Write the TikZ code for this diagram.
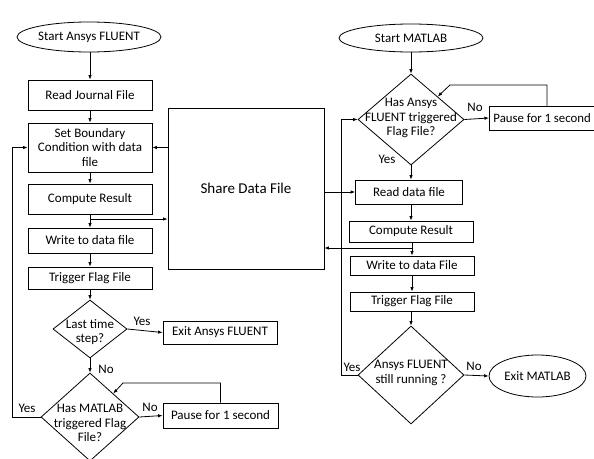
\documentclass[tikz,border=0pt]{standalone}
\usepackage{fontspec}
\setmainfont{Carlito}
\usetikzlibrary{arrows.meta,shapes.geometric,calc}
\begin{document}
\begin{tikzpicture}[x=1pt,y=-1pt,
  every node/.style={font=\fontsize{13}{14.5}\selectfont},
  box/.style={draw,line width=0.8pt,rectangle,inner sep=0pt,align=center},
  oval/.style={draw,line width=0.8pt,ellipse,inner sep=0pt},
  dia/.style={draw,line width=0.8pt,diamond,inner sep=0pt},
  txt/.style={align=center,inner sep=0pt},
  lbl/.style={inner sep=0pt},
  arr/.style={line width=0.8pt,-{Latex[length=4.5pt,width=3.5pt]}},
  ln/.style={line width=0.8pt}]
\useasboundingbox (0,0) rectangle (594,458);
\fill[white] (0,0) rectangle (594,458);

% ---------- left column ----------
\node[oval,minimum width=143pt,minimum height=30pt] (SA) at (89,37) {Start Ansys FLUENT};
\node[box,minimum width=124pt,minimum height=30pt] (RJ) at (90,95) {Read Journal File};
\node[box,minimum width=124pt,minimum height=49pt] (SB) at (90,147.5) {Set Boundary\\Condition with data\\file};
\node[box,minimum width=124pt,minimum height=30pt] (CR) at (90,199) {Compute Result};
\node[box,minimum width=124pt,minimum height=25pt] (WD) at (90,240.5) {Write to data file};
\node[box,minimum width=124pt,minimum height=22pt] (TF) at (90,278) {Trigger Flag File};
\node[dia,minimum width=74pt,minimum height=58pt] (D1) at (90,329) {};
\node[txt] (D1t) at (90,332) {Last time\\step?};
\node[box,minimum width=114pt,minimum height=23pt] (EA) at (220,332.5) {Exit Ansys FLUENT};
\node[dia,minimum width=98pt,minimum height=88pt] (D2) at (90,417) {};
\node[txt] (D2t) at (90,423) {Has MATLAB\\triggered Flag\\File?};
\node[box,minimum width=115pt,minimum height=25pt] (PL) at (220.5,415.5) {Pause for 1 second};

% ---------- share box ----------
\node[box,minimum width=156pt,minimum height=161pt,font=\fontsize{15}{17}\selectfont] (SH) at (246,188.5) {Share Data File};

% ---------- right column ----------
\node[oval,minimum width=144pt,minimum height=28pt] (SM) at (411,38) {Start MATLAB};
\node[dia,minimum width=106pt,minimum height=91pt] (D3) at (411,119.5) {};
\node[txt] (D3t) at (411,118) {Has Ansys\\FLUENT triggered\\Flag File?};
\node[box,anchor=west,minimum height=24pt,inner xsep=4pt,font=\fontsize{12.8}{14}\selectfont] (PR) at (489,118) {Pause for 1 second};
\node[box,minimum width=107pt,minimum height=24pt] (RD) at (409,192) {Read data file};
\node[box,minimum width=124pt,minimum height=21pt] (CR2) at (411,231.5) {Compute Result};
\node[box,minimum width=124pt,minimum height=19pt] (WR) at (412,265.5) {Write to data File};
\node[box,minimum width=124pt,minimum height=19pt] (TR) at (412,301.5) {Trigger Flag File};
\node[dia,minimum width=106pt,minimum height=98pt] (D4) at (411,375) {};
\node[txt] (D4t) at (411,373) {Ansys FLUENT\\still running ?};
\node[oval,minimum width=97pt,minimum height=42pt] (EM) at (537.5,376) {Exit MATLAB};

% ---------- left connectors ----------
\draw[arr] (SA.south -| RJ.north) -- (RJ.north);
\draw[arr] (RJ) -- (SB);
\draw[arr] (SB) -- (CR);
\draw[arr] (CR) -- (WD);
\draw[arr] (WD) -- (TF);
\draw[arr] (TF) -- (D1.north);
\coordinate (j1) at (90,219);
\draw[arr] (j1) -- (j1 -| SH.west);
\draw[arr] (SH.west |- SB.east) -- (SB.east);
\draw[arr] (D1.east) -- (EA.west);
\node[lbl] (y1) at (142,321) {Yes};
\draw[arr] (D1.south) -- (D2.north);
\node[lbl] (n1) at (106,369) {No};
\draw[arr] (D2.east) -- (PL.west);
\node[lbl] (n2) at (150,407) {No};
\coordinate (t2) at ($(D2.north)!0.47!(D2.east)$);
\draw[arr] (PL.north) |- (123,383) -- (t2);
\draw[arr] (D2.west) -- (12,417) |- (SB.west);
\node[lbl] (y2) at (27,408) {Yes};

% ---------- right connectors ----------
\draw[arr] (SM.south) -- (D3.north);
\draw[arr] (D3.east) -- (PR.west);
\node[lbl] (n3) at (475,107) {No};
\coordinate (t3) at ($(D3.north)!0.5!(D3.east)$);
\draw[arr] (547,106) |- (450,85) -- (t3);
\draw[arr] (D3.south) -- (D3.south |- RD.north);
\node[lbl] (y3) at (387,159) {Yes};
\draw[arr] (SH.east |- RD.west) -- (RD.west);
\draw[arr] (RD.south -| CR2.north) -- (CR2.north);
\draw[arr] (CR2.south -| WR.north) -- (WR.north);
\draw[arr] (WR) -- (TR);
\draw[arr] (TR.south -| D4.north) -- (D4.north);
\coordinate (j2) at (412,248);
\draw[arr] (j2) -- (j2 -| SH.east);
\draw[arr] (D4.east) -- (EM.west);
\node[lbl] (n4) at (474,366) {No};
\draw[arr] (D4.west) -- (341,375) |- (D3.west);
\node[lbl] (y4) at (352,367) {Yes};
\end{tikzpicture}
\end{document}
